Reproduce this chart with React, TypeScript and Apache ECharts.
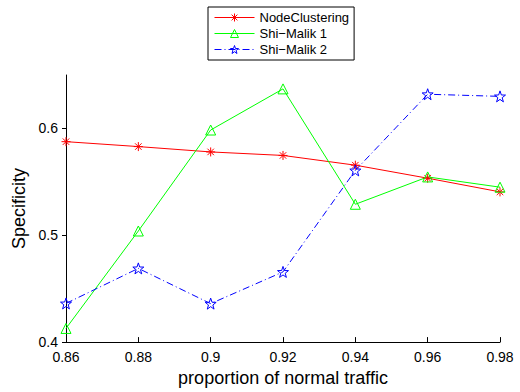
import React, { useEffect, useRef } from "react";
import * as echarts from "echarts";

const xValues = [0.86, 0.88, 0.9, 0.92, 0.94, 0.96, 0.98];
const nodeClustering = [0.5876, 0.583, 0.578, 0.5747, 0.5656, 0.5534, 0.5406];
const shiMalik1 = [0.4128, 0.504, 0.5985, 0.637, 0.529, 0.5546, 0.545];
const shiMalik2 = [0.4362, 0.469, 0.436, 0.4657, 0.5607, 0.632, 0.630];
const yTicks = [0.4, 0.5, 0.6];
const seriesNames = ["NodeClustering", "Shi\u2212Malik 1", "Shi\u2212Malik 2"];

const ASTERISK = "path://M0,-5L0,5M-5,0L5,0M-3.6,-3.6L3.6,3.6M-3.6,3.6L3.6,-3.6";
const STAR =
  "path://M0,-10L2.35,-3.24L9.51,-3.09L3.8,1.24L5.88,8.09L0,4L-5.88,8.09L-3.8,1.24L-9.51,-3.09L-2.35,-3.24Z";

const FONT = "Liberation Sans, Arial, Helvetica, sans-serif";
const colors = ["#ff0000", "#00ff00", "#0000ff"];

export default function App() {
  const ref = useRef<HTMLDivElement>(null);
  useEffect(() => {
    if (!ref.current) return;
    const chart = echarts.init(ref.current, null, { renderer: "svg" });
    const pair = (ys: number[]) => xValues.map((x, i) => [x, ys[i]]);
    chart.setOption({
      animation: false,
      backgroundColor: "#ffffff",
      textStyle: { fontFamily: FONT },
      grid: { left: 66, right: 20, top: 75, bottom: 44, containLabel: false },
      legend: {
        orient: "vertical",
        left: 208,
        top: 7,
        padding: [4, 5, 4, 6],
        itemGap: 3,
        itemWidth: 40,
        itemHeight: 10,
        borderColor: "#000",
        borderWidth: 1,
        borderRadius: 0,
        textStyle: { fontSize: 13, color: "#000", fontFamily: FONT },
        data: seriesNames.map((n, i) => ({
          name: n,
          itemStyle: { color: "none", borderColor: colors[i], borderWidth: 1 },
          lineStyle: { width: 1, color: colors[i], type: i === 2 ? [7, 3, 1, 3] : "solid" },
        })),
      },
      xAxis: {
        type: "value",
        min: 0.86,
        max: 0.98,
        interval: 0.02,
        name: "proportion of normal traffic",
        nameLocation: "middle",
        nameGap: 25,
        nameTextStyle: { fontSize: 18, color: "#000", fontFamily: FONT },
        axisLine: { onZero: false, lineStyle: { color: "#000", width: 1 } },
        axisTick: { inside: true, length: 5, lineStyle: { color: "#000" } },
        axisLabel: {
          fontSize: 14,
          color: "#000",
          margin: 8,
          fontFamily: FONT,
          formatter: (v: number) => String(+v.toFixed(2)),
        },
        splitLine: { show: false },
      },
      yAxis: {
        type: "value",
        min: 0.4,
        max: 0.65,
        interval: 0.1,
        name: "Specificity",
        nameLocation: "middle",
        nameGap: 36,
        nameTextStyle: { fontSize: 18, color: "#000", fontFamily: FONT },
        axisLine: { onZero: false, lineStyle: { color: "#000", width: 1 } },
        axisTick: { inside: false, length: 4, customValues: yTicks, lineStyle: { color: "#000" } },
        axisLabel: {
          fontSize: 14,
          color: "#000",
          margin: 8,
          fontFamily: FONT,
          customValues: yTicks,
          formatter: (v: number) => String(+v.toFixed(2)),
        },
        splitLine: { show: false },
      },
      series: [
        {
          name: seriesNames[0],
          type: "line",
          data: pair(nodeClustering),
          symbol: ASTERISK,
          symbolSize: 9,
          color: colors[0],
          lineStyle: { color: colors[0], width: 1 },
          itemStyle: { color: "none", borderColor: colors[0], borderWidth: 1 },
        },
        {
          name: seriesNames[1],
          type: "line",
          data: pair(shiMalik1),
          symbol: "triangle",
          symbolSize: 10,
          color: colors[1],
          lineStyle: { color: colors[1], width: 1 },
          itemStyle: { color: "none", borderColor: colors[1], borderWidth: 1 },
        },
        {
          name: seriesNames[2],
          type: "line",
          data: pair(shiMalik2),
          symbol: STAR,
          symbolSize: 11,
          color: colors[2],
          lineStyle: { color: colors[2], width: 1, type: [7, 3, 1, 3] },
          itemStyle: { color: "none", borderColor: colors[2], borderWidth: 1 },
        },
      ],
    });
    return () => chart.dispose();
  }, []);
  return (
    <div
      ref={ref}
      style={{ position: "absolute", left: 0, top: 0, width: 520, height: 392 }}
    />
  );
}
